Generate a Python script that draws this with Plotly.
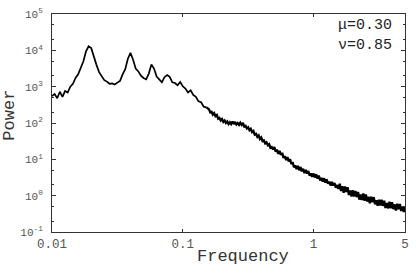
import numpy as np
import plotly.graph_objects as go

# ---- data (frequency, log10 of power) ----
freq_low = [0.01000, 0.01047, 0.01096, 0.01148, 0.01202, 0.01259, 0.01318, 0.01380, 0.01445, 0.01514,
            0.01585, 0.01660, 0.01738, 0.01820, 0.01905, 0.01995, 0.02089, 0.02188, 0.02291, 0.02399,
            0.02512, 0.02630, 0.02754, 0.02884, 0.03020, 0.03162, 0.03311, 0.03467, 0.03631, 0.03802,
            0.03981, 0.04169, 0.04365, 0.04571, 0.04786, 0.05012, 0.05248, 0.05495, 0.05754, 0.06026,
            0.06310, 0.06607, 0.06918, 0.07244, 0.07586, 0.07943, 0.08318, 0.08710, 0.09120, 0.09550,
            0.1000, 0.1047, 0.1096, 0.1148, 0.1202, 0.1259, 0.1318, 0.1380, 0.1445, 0.1514]
logp_low = [2.74, 2.80, 2.68, 2.86, 2.72, 2.88, 2.84, 3.00, 3.08, 3.24,
            3.34, 3.52, 3.70, 3.97, 4.11, 4.06, 3.80, 3.60, 3.40, 3.29,
            3.18, 3.14, 3.08, 3.09, 3.06, 3.11, 3.16, 3.34, 3.48, 3.77,
            3.93, 3.74, 3.50, 3.42, 3.30, 3.24, 3.20, 3.36, 3.61, 3.50,
            3.28, 3.20, 3.12, 3.26, 3.32, 3.27, 3.12, 3.10, 3.04, 3.13,
            3.01, 2.95, 2.84, 2.90, 2.77, 2.72, 2.60, 2.57, 2.45, 2.43]

freq_mid = [0.1585, 0.1622, 0.1660, 0.1698, 0.1738, 0.1778, 0.1820, 0.1862, 0.1905, 0.1950,
            0.1995, 0.2042, 0.2089, 0.2138, 0.2188, 0.2239, 0.2291, 0.2344, 0.2399, 0.2455,
            0.2512, 0.2570, 0.2630, 0.2692, 0.2754, 0.2818, 0.2884, 0.2951, 0.3020, 0.3090,
            0.3162, 0.3236, 0.3311, 0.3388, 0.3467, 0.3548, 0.3631, 0.3715, 0.3802, 0.3890,
            0.3981, 0.4074, 0.4169, 0.4266, 0.4365, 0.4467, 0.4571, 0.4677, 0.4786, 0.4898]
logp_mid = [2.38, 2.29, 2.31, 2.23, 2.27, 2.19, 2.22, 2.12, 2.14, 2.07,
            2.11, 2.03, 2.07, 2.00, 2.04, 1.97, 2.02, 1.97, 2.04, 1.97,
            2.03, 1.96, 2.00, 1.95, 2.01, 1.95, 2.00, 1.90, 1.92, 1.85,
            1.88, 1.80, 1.84, 1.75, 1.78, 1.68, 1.70, 1.62, 1.66, 1.56,
            1.60, 1.50, 1.52, 1.44, 1.47, 1.39, 1.42, 1.32, 1.34, 1.27]

freq_high = [0.5012, 0.5129, 0.5248, 0.5370, 0.5495, 0.5623, 0.5754, 0.5888, 0.6026, 0.6166,
             0.6310, 0.6457, 0.6607, 0.6761, 0.6918, 0.7079, 0.7244, 0.7413, 0.7586, 0.7762,
             0.7943, 0.8128, 0.8318, 0.8511, 0.8710, 0.8913, 0.9120, 0.9333, 0.9550, 0.9772,
             1.000, 1.023, 1.047, 1.072, 1.096, 1.122, 1.148, 1.175, 1.202, 1.230,
             1.259, 1.288, 1.318, 1.349, 1.380, 1.413, 1.445, 1.479, 1.514, 1.549]
logp_high = [1.34, 1.21, 1.27, 1.15, 1.23, 1.12, 1.18, 1.04, 1.09, 0.98,
             1.06, 0.94, 1.01, 0.87, 0.92, 0.78, 0.83, 0.73, 0.82, 0.70,
             0.79, 0.67, 0.74, 0.62, 0.71, 0.61, 0.68, 0.55, 0.61, 0.52,
             0.61, 0.50, 0.59, 0.47, 0.55, 0.42, 0.49, 0.39, 0.48, 0.36,
             0.45, 0.33, 0.39, 0.28, 0.38, 0.28, 0.35, 0.22, 0.29, 0.19]

freq_tail = [1.585, 1.622, 1.660, 1.698, 1.738, 1.778, 1.820, 1.862, 1.905, 1.950,
             1.995, 2.042, 2.089, 2.138, 2.188, 2.239, 2.291, 2.344, 2.399, 2.455,
             2.512, 2.570, 2.630, 2.692, 2.754, 2.818, 2.884, 2.951, 3.020, 3.090,
             3.162, 3.236, 3.311, 3.388, 3.467, 3.548, 3.631, 3.715, 3.802, 3.890,
             3.981, 4.074, 4.169, 4.266, 4.365, 4.467, 4.571, 4.677, 4.786, 4.898, 5.000]
logp_tail = [0.33, 0.13, 0.26, 0.08, 0.25, 0.10, 0.23, 0.02, 0.14, -0.02,
             0.15, -0.02, 0.13, -0.04, 0.10, -0.11, 0.03, -0.12, 0.06, -0.14,
             0.03, -0.16, -0.03, -0.21, -0.03, -0.18, -0.04, -0.24, -0.13, -0.28,
             -0.11, -0.27, -0.11, -0.28, -0.14, -0.34, -0.20, -0.35, -0.17, -0.35,
             -0.18, -0.37, -0.24, -0.41, -0.22, -0.37, -0.23, -0.42, -0.30, -0.45, -0.30]

x_tick_vals = [0.01, 0.1, 1, 5]
x_tick_text = ["0.01", "0.1", "1", "5"]
y_tick_vals = [0.1, 1, 10, 100, 1000, 10000, 100000]
y_tick_text = ["10<sup>-1</sup>", "10<sup>0</sup>", "10<sup>1</sup>", "10<sup>2</sup>",
               "10<sup>3</sup>", "10<sup>4</sup>", "10<sup>5</sup>"]
mu_label = "\u03bc=0.30"
nu_label = "\u03bd=0.85"

# low-frequency part (thin line) and the noisier high-frequency part (thicker band)
freq_a = freq_low
power_a = 10 ** np.array(logp_low)
freq_b = freq_low[-1:] + freq_mid + freq_high + freq_tail
power_b = 10 ** np.array(logp_low[-1:] + logp_mid + logp_high + logp_tail)

FONT = "Liberation Mono, Courier New, monospace"

fig = go.Figure()
fig.add_trace(go.Scatter(x=freq_a, y=power_a, mode="lines",
                         line=dict(color="black", width=1.7), showlegend=False))
fig.add_trace(go.Scatter(x=freq_b, y=power_b, mode="lines",
                         line=dict(color="black", width=2.3), showlegend=False))

axis_common = dict(showgrid=False, zeroline=False, showline=True, linecolor="#333",
                   linewidth=1, mirror="allticks", ticks="inside", tickcolor="#333")

fig.update_xaxes(type="log", range=[-2, np.log10(5)], tickvals=x_tick_vals,
                 ticktext=x_tick_text, ticklen=3,
                 tickfont=dict(family=FONT, size=12.5, color="#555"), **axis_common)
fig.update_yaxes(type="log", range=[-1, 5], tickvals=y_tick_vals, ticktext=y_tick_text,
                 ticklen=4, minor=dict(ticks="inside", ticklen=2, tickcolor="#333", showgrid=False),
                 tickfont=dict(family=FONT, size=11, color="#555"), ticklabelstandoff=6,
                 **axis_common)

annos = [
    dict(text="Power", x=-0.1204, y=0.536, textangle=-90, font=dict(size=17, color="#333")),
    dict(text="Frequency", x=0.542, y=-0.1126, font=dict(size=17, color="#333")),
    dict(text=mu_label, x=0.969, y=0.946, xanchor="right", font=dict(size=15, color="#222")),
    dict(text=nu_label, x=0.969, y=0.856, xanchor="right", font=dict(size=15, color="#222")),
]
for a in annos:
    a.setdefault("xanchor", "center")
    a["font"]["family"] = FONT
    fig.add_annotation(xref="paper", yref="paper", showarrow=False, yanchor="middle", **a)

fig.update_layout(width=416, height=274, margin=dict(l=52, r=7, t=10, b=42),
                  paper_bgcolor="white", plot_bgcolor="white")

fig.write_html("out.html", config={"displayModeBar": False},
               post_script="document.body.style.margin='0';")
